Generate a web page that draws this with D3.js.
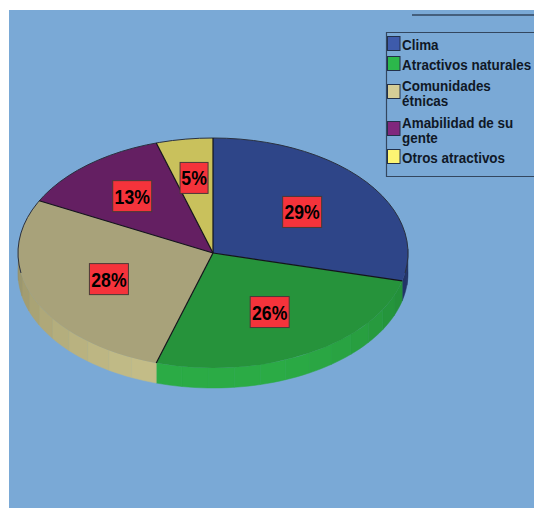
<!DOCTYPE html>
<html>
<head>
<meta charset="utf-8">
<script src="https://cdn.jsdelivr.net/npm/d3@7"></script>
<style>
  html, body { margin: 0; padding: 0; background: #fff; }
  svg { display: block; font-family: "Liberation Sans", Arial, sans-serif; }
</style>
</head>
<body>
<div id="chart"></div>
<script>
const categories = ['Clima', 'Atractivos naturales', 'Comunidades étnicas', 'Amabilidad de su gente', 'Otros atractivos'];
const shares = [28.9, 25.8, 27.8, 12.8, 4.7];
const percentLabels = ['29%', '26%', '28%', '13%', '5%'];
const topColors = ['#2e4588', '#26933b', '#a8a27a', '#641f62', '#c9c15c'];
const sideColors = ['#2b4080', '#2bab45', '#c4bd88', '#5a1c58', '#b5ae52'];
const legendColors = ['#3e5bab', '#2cb84b', '#d5cd96', '#80277d', '#fdf573'];
const legendLines = [['Clima'], ['Atractivos naturales'], ['Comunidades', 'étnicas'], ['Amabilidad de su', 'gente'], ['Otros atractivos']];

const width = 534;
const height = 508;
const cx = 213, cy = 253, rx = 195, ry = 115, depth = 20;

const svg = d3.select('#chart').append('svg')
  .attr('width', width)
  .attr('height', height);

svg.append('rect')
  .attr('x', 9).attr('y', 10)
  .attr('width', width - 9).attr('height', height - 10)
  .attr('fill', '#7aa9d6');

// short rule above the legend
svg.append('line')
  .attr('x1', 412).attr('x2', width)
  .attr('y1', 15).attr('y2', 15)
  .attr('stroke', '#33475f').attr('stroke-width', 1.5);

const pie = d3.pie().sort(null).value(d => d);
const slices = pie(shares);

const px = a => cx + rx * Math.sin(a);
const py = a => cy - ry * Math.cos(a);

// side wall, split into facets so it gets the banded shading
const wall = svg.append('g');
slices.forEach((s, i) => {
  const step = Math.PI / 22;
  const n = Math.max(1, Math.ceil((s.endAngle - s.startAngle) / step));
  const angles = d3.range(n + 1).map(k => s.startAngle + (s.endAngle - s.startAngle) * k / n);
  d3.pairs(angles).forEach(([a0, a1]) => {
    const mid = (a0 + a1) / 2;
    if (Math.cos(mid) > 0.05) return;
    // lighter towards the front, darker towards both sides
    const shade = d3.interpolateRgb(d3.color(sideColors[i]).darker(0.75), sideColors[i])(Math.min(1, -Math.cos(mid) * 1.05));
    const arcPts = d3.range(5).map(k => a0 + (a1 - a0) * k / 4);
    const path = d3.path();
    arcPts.forEach((a, k) => k ? path.lineTo(px(a), py(a)) : path.moveTo(px(a), py(a)));
    arcPts.slice().reverse().forEach(a => path.lineTo(px(a), py(a) + depth));
    path.closePath();
    wall.append('path')
      .attr('d', path.toString())
      .attr('fill', shade)
      .attr('stroke', shade)
      .attr('stroke-width', 0.5);
  });
});

// top face is a unit-radius arc stretched into the ellipse
const arc = d3.arc().innerRadius(0).outerRadius(1);
svg.append('g')
  .selectAll('path')
  .data(slices)
  .enter()
  .append('path')
  .attr('d', arc)
  .attr('transform', `translate(${cx},${cy}) scale(${rx},${ry})`)
  .attr('fill', (d, i) => topColors[i]);

// dark outline only along the back of the ellipse, the front edge stays soft
const backEdge = d3.range(-100, 101, 4).map(deg => deg * Math.PI / 180);
svg.append('path')
  .attr('d', d3.line().x(px).y(py)(backEdge))
  .attr('fill', 'none')
  .attr('stroke', '#2a3140')
  .attr('stroke-width', 1);

// slice borders
svg.append('g')
  .selectAll('line')
  .data(slices)
  .enter()
  .append('line')
  .attr('x1', cx).attr('y1', cy)
  .attr('x2', d => px(d.startAngle))
  .attr('y2', d => py(d.startAngle))
  .attr('stroke', '#14141a')
  .attr('stroke-width', 1.2);

// percentage labels, pushed out along each slice's bisector
const labelReach = [0.58, 0.59, 0.58, 0.645, 0.66];
const labels = svg.append('g')
  .selectAll('g')
  .data(slices)
  .enter()
  .append('g')
  .attr('transform', d => {
    const a = (d.startAngle + d.endAngle) / 2;
    const f = labelReach[d.index];
    return `translate(${cx + rx * f * Math.sin(a)},${cy - ry * f * Math.cos(a)})`;
  });

labels.append('rect')
  .attr('x', (d, i) => i === 4 ? -14 : -19.5)
  .attr('y', -15.5)
  .attr('width', (d, i) => i === 4 ? 28 : 39)
  .attr('height', 31)
  .attr('fill', '#f5333b')
  .attr('stroke', '#4a3a38')
  .attr('stroke-width', 1);

labels.append('text')
  .attr('text-anchor', 'middle')
  .attr('transform', 'translate(0,7.5) scale(0.84,1)')
  .attr('font-size', 21)
  .attr('font-weight', 'bold')
  .attr('fill', '#000')
  .text((d, i) => percentLabels[i]);

// legend
const legend = svg.append('g');
legend.append('path')
  .attr('d', `M${width},32.5H386.5V176.5H${width}`)
  .attr('fill', 'none')
  .attr('stroke', '#33475f')
  .attr('stroke-width', 1.2);

const firstBaselines = [50, 70, 90.7, 128, 163];
categories.forEach((c, i) => {
  const base = firstBaselines[i];
  const lastBase = base + (legendLines[i].length - 1) * 15;
  const swatchMid = (base - 10 + lastBase) / 2 - 2.2;
  legend.append('rect')
    .attr('x', 387.5).attr('y', Math.round(swatchMid - 7) + 0.5)
    .attr('width', 12.5).attr('height', 14)
    .attr('fill', legendColors[i])
    .attr('stroke', '#22304a').attr('stroke-width', 1);
  legendLines[i].forEach((line, k) => {
    legend.append('text')
      .attr('transform', `translate(402,${base + k * 15}) scale(0.96,1)`)
      .attr('font-size', 14)
      .attr('font-weight', 'bold')
      .attr('fill', '#101826')
      .text(line);
  });
});
</script>
</body>
</html>
